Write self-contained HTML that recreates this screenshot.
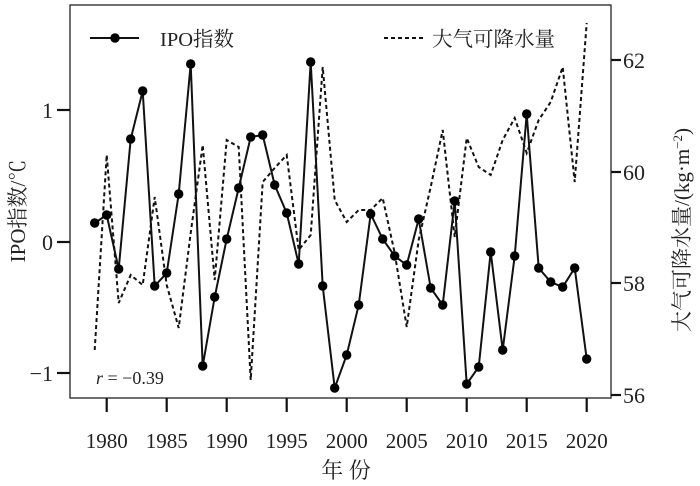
<!DOCTYPE html>
<html><head><meta charset="utf-8"><style>
html,body{margin:0;padding:0;background:#fff;}
svg{display:block;}
text{font-family:"Liberation Serif","Noto Serif CJK SC",serif;fill:#222;}
</style></head><body>
<svg width="700" height="486" viewBox="0 0 700 486" xmlns="http://www.w3.org/2000/svg">
<rect x="70" y="5" width="541" height="393" fill="none" stroke="#222" stroke-width="1.3"/>
<g stroke="#111" stroke-width="2.2">
<line x1="57" y1="110" x2="70" y2="110"/><line x1="57" y1="242" x2="70" y2="242"/><line x1="57" y1="373" x2="70" y2="373"/>
<line x1="611" y1="60" x2="621" y2="60"/><line x1="611" y1="172" x2="621" y2="172"/><line x1="611" y1="283" x2="621" y2="283"/><line x1="611" y1="395" x2="621" y2="395"/>
<line x1="106.7" y1="398" x2="106.7" y2="412"/><line x1="166.7" y1="398" x2="166.7" y2="412"/><line x1="226.7" y1="398" x2="226.7" y2="412"/><line x1="286.7" y1="398" x2="286.7" y2="412"/><line x1="346.7" y1="398" x2="346.7" y2="412"/><line x1="406.7" y1="398" x2="406.7" y2="412"/><line x1="466.7" y1="398" x2="466.7" y2="412"/><line x1="526.7" y1="398" x2="526.7" y2="412"/><line x1="586.7" y1="398" x2="586.7" y2="412"/>
</g>
<g font-size="22" text-anchor="end">
<text x="53" y="118">1</text><text x="53" y="250">0</text><text x="53" y="381">−1</text>
</g>
<g font-size="22">
<text x="623" y="68">62</text><text x="623" y="180">60</text><text x="623" y="291">58</text><text x="623" y="403">56</text>
</g>
<g font-size="21" text-anchor="middle">
<text x="106.7" y="448">1980</text><text x="166.7" y="448">1985</text><text x="226.7" y="448">1990</text><text x="286.7" y="448">1995</text><text x="346.7" y="448">2000</text><text x="406.7" y="448">2005</text><text x="466.7" y="448">2010</text><text x="526.7" y="448">2015</text><text x="586.7" y="448">2020</text>
<text x="346" y="478" font-size="22">年 份</text>
<text transform="translate(25,211) rotate(-90)" font-size="21">IPO指数/℃</text>
<text transform="translate(689,230) rotate(-90)" font-size="21">大气可降水量/(kg·m<tspan font-size="13" dy="-7">−2</tspan><tspan dy="7">)</tspan></text>
</g>
<polyline fill="none" stroke="#111" stroke-width="2" stroke-dasharray="4,3" points="94.7,350 106.7,155 118.7,303 130.7,275 142.7,285 154.7,197 166.7,285 178.7,328 190.7,233 202.7,145 214.7,280 226.7,140 238.7,147 250.7,380 262.7,182 274.7,168 286.7,155 298.7,250 310.7,235 322.7,67 334.7,200 346.7,222 358.7,210 370.7,210 382.7,198 394.7,253 406.7,327 418.7,240 430.7,187 442.7,130 454.7,237 466.7,138 478.7,167 490.7,175 502.7,140 514.7,118 526.7,153 538.7,120 550.7,102 562.7,67 574.7,182 586.7,23"/>
<polyline fill="none" stroke="#111" stroke-width="2" points="94.7,223 106.7,215 118.7,269 130.7,139 142.7,91 154.7,286 166.7,273 178.7,194 190.7,64 202.7,366 214.7,297 226.7,239 238.7,188 250.7,137 262.7,135 274.7,185 286.7,213 298.7,264 310.7,62 322.7,286 334.7,388 346.7,355 358.7,305 370.7,214 382.7,239 394.7,256 406.7,265 418.7,219 430.7,288 442.7,305 454.7,201 466.7,384 478.7,367 490.7,252 502.7,350 514.7,256 526.7,114 538.7,268 550.7,282 562.7,287 574.7,268 586.7,359"/>
<g fill="#000">
<circle cx="94.7" cy="223" r="4.7"/><circle cx="106.7" cy="215" r="4.7"/><circle cx="118.7" cy="269" r="4.7"/><circle cx="130.7" cy="139" r="4.7"/><circle cx="142.7" cy="91" r="4.7"/><circle cx="154.7" cy="286" r="4.7"/><circle cx="166.7" cy="273" r="4.7"/><circle cx="178.7" cy="194" r="4.7"/><circle cx="190.7" cy="64" r="4.7"/><circle cx="202.7" cy="366" r="4.7"/><circle cx="214.7" cy="297" r="4.7"/><circle cx="226.7" cy="239" r="4.7"/><circle cx="238.7" cy="188" r="4.7"/><circle cx="250.7" cy="137" r="4.7"/><circle cx="262.7" cy="135" r="4.7"/><circle cx="274.7" cy="185" r="4.7"/><circle cx="286.7" cy="213" r="4.7"/><circle cx="298.7" cy="264" r="4.7"/><circle cx="310.7" cy="62" r="4.7"/><circle cx="322.7" cy="286" r="4.7"/><circle cx="334.7" cy="388" r="4.7"/><circle cx="346.7" cy="355" r="4.7"/><circle cx="358.7" cy="305" r="4.7"/><circle cx="370.7" cy="214" r="4.7"/><circle cx="382.7" cy="239" r="4.7"/><circle cx="394.7" cy="256" r="4.7"/><circle cx="406.7" cy="265" r="4.7"/><circle cx="418.7" cy="219" r="4.7"/><circle cx="430.7" cy="288" r="4.7"/><circle cx="442.7" cy="305" r="4.7"/><circle cx="454.7" cy="201" r="4.7"/><circle cx="466.7" cy="384" r="4.7"/><circle cx="478.7" cy="367" r="4.7"/><circle cx="490.7" cy="252" r="4.7"/><circle cx="502.7" cy="350" r="4.7"/><circle cx="514.7" cy="256" r="4.7"/><circle cx="526.7" cy="114" r="4.7"/><circle cx="538.7" cy="268" r="4.7"/><circle cx="550.7" cy="282" r="4.7"/><circle cx="562.7" cy="287" r="4.7"/><circle cx="574.7" cy="268" r="4.7"/><circle cx="586.7" cy="359" r="4.7"/>
</g>
<line x1="90" y1="38" x2="139" y2="38" stroke="#111" stroke-width="2"/><circle cx="115" cy="38" r="4.7" fill="#000"/>
<text x="160" y="46" font-size="20.5">IPO指数</text>
<line x1="384" y1="38" x2="426" y2="38" stroke="#111" stroke-width="2" stroke-dasharray="4,3"/>
<text x="432" y="46" font-size="20.5">大气可降水量</text>
<text x="96" y="384" font-size="18"><tspan font-style="italic">r</tspan> = −0.39</text>
</svg>
</body></html>
